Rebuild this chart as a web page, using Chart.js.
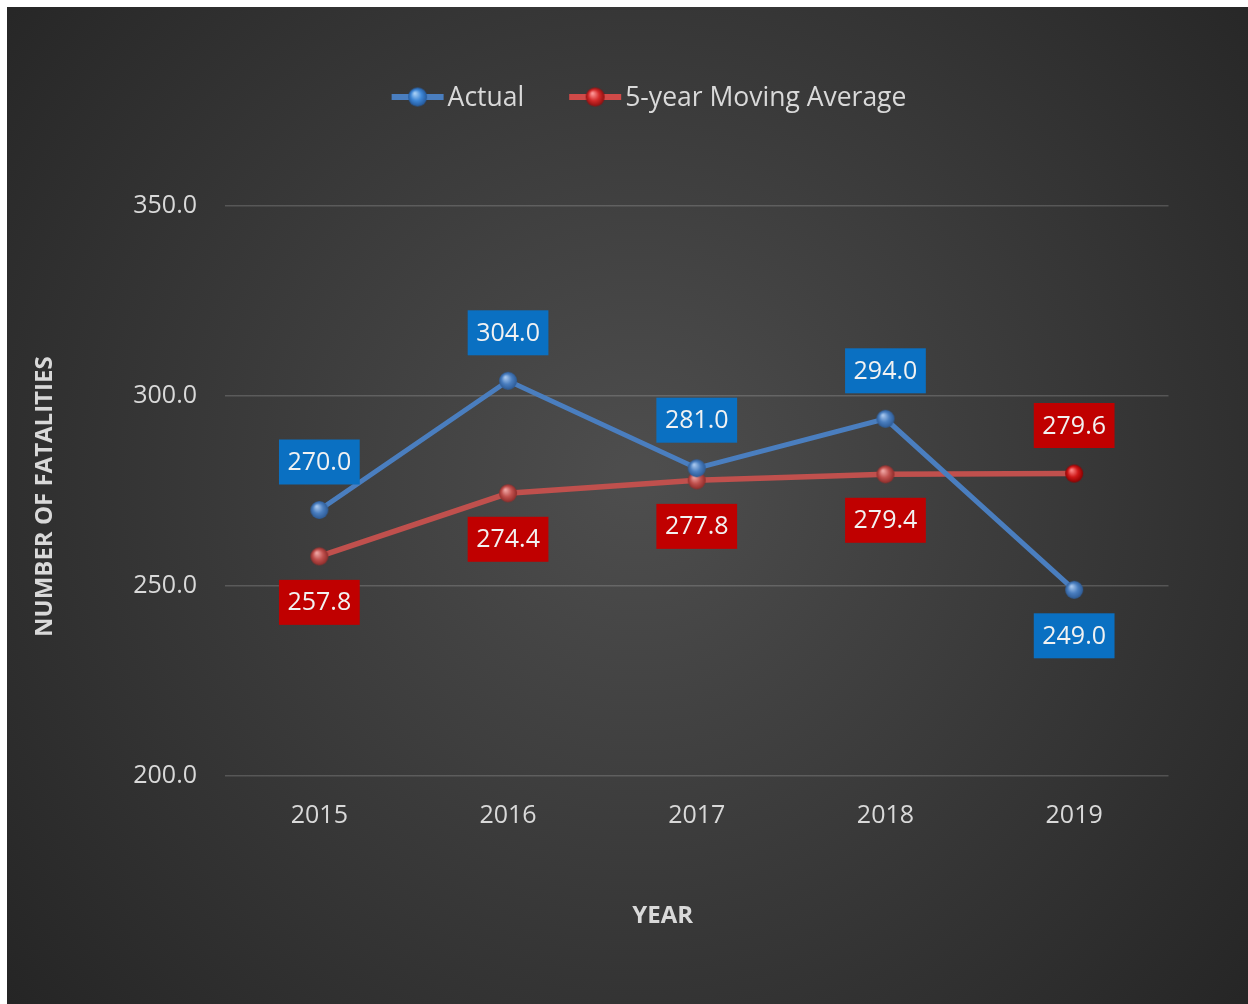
<!DOCTYPE html>
<html><head><meta charset="utf-8">
<script src="https://cdn.jsdelivr.net/npm/chart.js@4.4.0/dist/chart.umd.min.js"></script>
<style>
html,body{margin:0;padding:0;background:#fff;overflow:hidden;width:1248px;height:1004px}
#wrap{position:absolute;left:7px;top:7px;width:1241px;height:997px}
</style>
</head><body><div id="wrap"><canvas id="c"></canvas></div>
<script>
const years = ['2015', '2016', '2017', '2018', '2019'];
const actual = [270.0, 304.0, 281.0, 294.0, 249.0];
const movingAvg = [257.8, 274.4, 277.8, 279.4, 279.6];
const seriesNames = ['Actual', '5-year Moving Average'];
const xTitle = 'YEAR';
const yTitle = 'NUMBER OF FATALITIES';
const yMin = 200, yMax = 350, yStep = 50;
const actualLabelSide = ['top', 'top', 'top', 'top', 'bottom'];
const avgLabelSide = ['bottom', 'bottom', 'bottom', 'bottom', 'top'];

const FONT = "'Open Sans', 'Noto Sans', sans-serif";
const TXT = '#d9d9d9';

function ball(base, light, dark, r) {
  const s = Math.ceil(r * 2 + 2);
  const c = document.createElement('canvas');
  c.width = s; c.height = s;
  const g = c.getContext('2d');
  const cx = s / 2, cy = s / 2;
  const gr = g.createRadialGradient(cx - r * 0.3, cy - r * 0.4, r * 0.05, cx, cy, r);
  gr.addColorStop(0, light);
  gr.addColorStop(0.55, base);
  gr.addColorStop(1, dark);
  g.fillStyle = gr;
  g.beginPath(); g.arc(cx, cy, r, 0, Math.PI * 2); g.fill();
  return c;
}
const blueBall = ball('#4a7ebf', '#a9c8ee', '#2d5a94', 9);
const redBall = ball('#c0504d', '#f0a8a6', '#8c2c2a', 9);
const redBall2 = ball('#d01818', '#ff8a8a', '#8a0000', 9);
const blueBallL = ball('#3d86d6', '#a9d0f5', '#24589a', 9.5);
const redBallL = ball('#d42a2a', '#ff9a9a', '#8c1010', 9.5);

const bgPlugin = {
  id: 'bg',
  beforeDraw(chart) {
    const { ctx, width, height } = chart;
    ctx.save();
    const g = ctx.createRadialGradient(630, 470, 20, 630, 470, 820);
    g.addColorStop(0, '#4d4d4d');
    g.addColorStop(1, '#252525');
    ctx.fillStyle = g;
    ctx.fillRect(0, 0, width, height);
    ctx.restore();
  }
};

const labelPlugin = {
  id: 'boxLabels',
  afterDatasetsDraw(chart) {
    const { ctx } = chart;
    ctx.save();
    ctx.font = '25px ' + FONT;
    ctx.textAlign = 'center';
    ctx.textBaseline = 'middle';
    chart.data.datasets.forEach((ds, di) => {
      const meta = chart.getDatasetMeta(di);
      const sides = ds.labelSide;
      meta.data.forEach((pt, i) => {
        const txt = ds.data[i].toFixed(1);
        const w = ctx.measureText(txt).width + 17;
        const h = 45;
        const cy = pt.y + (sides[i] === 'top' ? -48 : 46);
        ctx.fillStyle = ds.boxColor;
        ctx.fillRect(pt.x - w / 2, cy - h / 2, w, h);
        ctx.fillStyle = '#f2f2f2';
        ctx.fillText(txt, pt.x, cy + 1);
      });
    });
    ctx.restore();
  }
};

const titlePlugin = {
  id: 'axisTitles',
  afterDraw(chart) {
    const { ctx, chartArea } = chart;
    ctx.save();
    ctx.fillStyle = TXT;
    ctx.font = 'bold 24px ' + FONT;
    ctx.textAlign = 'center';
    ctx.textBaseline = 'middle';
    ctx.fillText(xTitle, chartArea.left + (chartArea.right - chartArea.left) * 0.464, chartArea.bottom + 140);
    ctx.translate(38, chartArea.top + (chartArea.bottom - chartArea.top) * 0.51);
    ctx.rotate(-Math.PI / 2);
    ctx.fillText(yTitle, 0, 0);
    ctx.restore();
  }
};

const legendPlugin = {
  id: 'customLegend',
  afterDraw(chart) {
    const { ctx } = chart;
    ctx.save();
    ctx.font = '26.5px ' + FONT;
    ctx.textBaseline = 'middle';
    const marker = 52, gap = 4, between = 45;
    const items = chart.data.datasets.map(ds => ({ ds, tw: ctx.measureText(ds.label).width }));
    const total = items.reduce((s, it) => s + marker + gap + it.tw, 0) + between * (items.length - 1);
    let x = 642 - total / 2;
    const y = 90;
    items.forEach(it => {
      ctx.strokeStyle = it.ds.legendLine;
      ctx.lineWidth = 6;
      ctx.beginPath(); ctx.moveTo(x, y); ctx.lineTo(x + marker, y); ctx.stroke();
      const b = it.ds.legendBall;
      ctx.drawImage(b, x + marker / 2 - b.width / 2, y - b.height / 2);
      ctx.fillStyle = TXT;
      ctx.textAlign = 'left';
      ctx.fillText(it.ds.label, x + marker + gap, y + 1);
      x += marker + gap + it.tw + between;
    });
    ctx.restore();
  }
};

new Chart(document.getElementById('c'), {
  type: 'line',
  data: {
    labels: years,
    datasets: [
      {
        label: seriesNames[0], data: actual, borderColor: '#4a7ebf', borderWidth: 5,
        pointStyle: blueBall, pointRadius: 9, tension: 0, labelSide: actualLabelSide,
        boxColor: '#0a70c2', legendBall: blueBallL, legendLine: '#4a7ebf'
      },
      {
        label: seriesNames[1], data: movingAvg, borderColor: '#c0504d', borderWidth: 5.5,
        pointStyle: [redBall, redBall, redBall, redBall, redBall2], pointRadius: 9, tension: 0,
        labelSide: avgLabelSide, boxColor: '#c00000', legendBall: redBallL, legendLine: '#d04a48'
      }
    ]
  },
  options: {
    responsive: true, maintainAspectRatio: false, animation: false,
    layout: { padding: { top: 199, right: 79.5, left: 0, bottom: 0 } },
    plugins: { legend: { display: false }, tooltip: { enabled: false } },
    scales: {
      x: {
        offset: true,
        grid: { display: false, drawTicks: false },
        border: { display: false },
        ticks: { color: TXT, font: { family: FONT, size: 25 }, padding: 25 },
        afterFit(s) { s.height = 228; }
      },
      y: {
        min: yMin, max: yMax,
        grid: { color: 'rgba(255,255,255,0.17)', lineWidth: 1.5, drawTicks: false },
        border: { display: false },
        ticks: { stepSize: yStep, color: TXT, font: { family: FONT, size: 25 }, padding: 28, callback: v => v.toFixed(1) },
        afterFit(s) { s.width = 218; }
      }
    }
  },
  plugins: [bgPlugin, labelPlugin, titlePlugin, legendPlugin]
});
</script>
</body></html>
